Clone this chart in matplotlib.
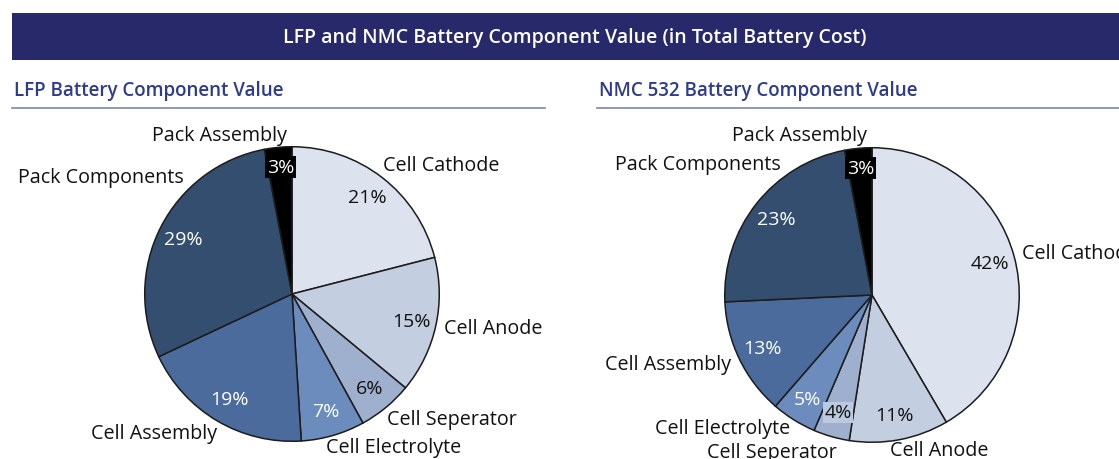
import matplotlib
matplotlib.use('Agg')
import matplotlib.pyplot as plt
from matplotlib.patches import Rectangle
from matplotlib.lines import Line2D

plt.rcParams['font.family'] = ['Open Sans', 'DejaVu Sans']

W, H = 1119, 460
NAVY = '#27296b'
SUB = '#2e3b8e'
RULE = '#7c82b8'
EDGE = '#1c1c1c'

components = ['Cell Cathode', 'Cell Anode', 'Cell Seperator', 'Cell Electrolyte',
              'Cell Assembly', 'Pack Components', 'Pack Assembly']
lfp_values = [21, 15, 6, 7, 19, 29, 3]
nmc_values = [42, 11, 4, 5, 13, 23, 3]

slice_colors = ['#dce3ee', '#c3cee0', '#9eb0cd', '#6b8cbc', '#4a6b9b', '#344e70', '#000000']
pct_colors = ['#111111', '#111111', '#111111', 'white', 'white', 'white', 'white']

# outer label anchors (pixels) and alignment, per chart
lfp_labels = [(383, 166, 'left'), (444, 329, 'left'), (387, 420, 'left'), (326, 448, 'left'),
              (217, 434, 'right'), (184, 178, 'right'), (220, 136, 'center')]
nmc_labels = [(1022, 254, 'left'), (890, 451, 'left'), (772, 453, 'center'), (790, 429, 'right'),
              (731, 365, 'right'), (781, 165, 'right'), (800, 136, 'center')]


def px(x, y):
    return x / W, 1 - y / H


fig = plt.figure(figsize=(W / 100, H / 100), dpi=100)
fig.patch.set_facecolor('white')

# banner
fig.patches.append(Rectangle(px(12, 61), (W - 12) / W, 47 / H, transform=fig.transFigure,
                             facecolor=NAVY, edgecolor='none', zorder=0))
fig.text(*px(575, 38), 'LFP and NMC Battery Component Value (in Total Battery Cost)',
         color='white', fontsize=14, fontweight='semibold', ha='center', va='center')

# sub titles with rules
for x0, x1, title in [(12, 545, 'LFP Battery Component Value'),
                      (597, W, 'NMC 532 Battery Component Value')]:
    fig.text(*px(x0 + 2, 91), title, color=SUB, fontsize=13.5, fontweight='semibold',
             ha='left', va='center')
    fig.lines.append(Line2D([x0 / W, x1 / W], [1 - 109 / H] * 2, transform=fig.transFigure,
                            color=RULE, linewidth=1.2))


def draw_pie(cx, cy, r, values, labels):
    total = sum(values)
    ax = fig.add_axes([(cx - r) / W, 1 - (cy + r) / H, 2 * r / W, 2 * r / H])
    wedges, _, autotexts = ax.pie(values, colors=slice_colors, startangle=90, counterclock=False,
                                  autopct=lambda p: f'{p * total / 100:.0f}%', pctdistance=0.83,
                                  wedgeprops=dict(edgecolor=EDGE, linewidth=1.1),
                                  textprops=dict(fontsize=14))
    ax.set_xlim(-1.005, 1.005)
    ax.set_ylim(-1.005, 1.005)
    for t, c in zip(autotexts, pct_colors):
        t.set_color(c)
    autotexts[-1].set_bbox(dict(facecolor='black', edgecolor='none', pad=1.5))
    autotexts[-1].set_position((autotexts[-1].get_position()[0], 0.86))
    for name, (x, y, ha) in zip(components, labels):
        fig.text(*px(x, y), name, fontsize=14.2, color='#111111', ha=ha, va='center')
    return autotexts


draw_pie(292, 295, 148, lfp_values, lfp_labels)
nmc_texts = draw_pie(872, 296, 148, nmc_values, nmc_labels)
nmc_texts[2].set_bbox(dict(facecolor='#bccadf', edgecolor='none', pad=1.0))

fig.savefig('out.png', dpi=100, facecolor='white')
